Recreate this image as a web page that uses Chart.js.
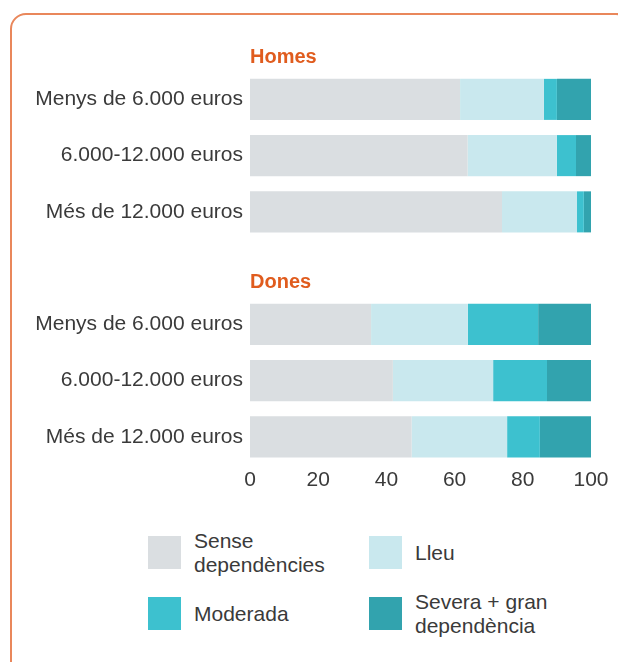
<!DOCTYPE html>
<html>
<head>
<meta charset="utf-8">
<script src="https://cdn.jsdelivr.net/npm/chart.js@4.4.1/dist/chart.umd.min.js"></script>
<style>
    html, body { margin: 0; padding: 0; background: #fff; overflow: hidden; }
    body { width: 618px; height: 662px; position: relative; font-family: "Liberation Sans", Arial, sans-serif; }
    .frame {
        position: absolute; left: 10px; top: 13px; width: 622px; height: 664px;
        border: 2px solid #e9875b; border-radius: 16px; box-sizing: border-box;
    }
    .wrap { position: absolute; left: 0; top: 0; width: 618px; height: 500px; }
    .legend { position: absolute; left: 0; top: 0; width: 618px; }
    .item { position: absolute; display: flex; align-items: center; }
    .swatch { width: 33px; height: 33px; flex: none; }
    .txt { margin-left: 13px; font-size: 21px; line-height: 24px; color: #3a3a3a; }
</style>
</head>
<body>
<div class="frame"></div>
<div class="wrap"><canvas id="chart"></canvas></div>
<div class="legend" id="legend"></div>
<script>
    // <-- Data -->
    const rowLabels = ['', 'Menys de 6.000 euros', '6.000-12.000 euros', 'Més de 12.000 euros',
                       '', 'Menys de 6.000 euros', '6.000-12.000 euros', 'Més de 12.000 euros'];
    const groupTitles = ['Homes', 'Dones'];
    const groupSlots = [0, 4];

    const seriesNames = [['Sense', 'dependències'], ['Lleu'], ['Moderada'], ['Severa + gran', 'dependència']];
    const seriesColors = ['#dadee1', '#c9e8ee', '#3dc1cf', '#32a3ae'];

    const sense    = [null, 61.6, 63.8, 73.9, null, 35.5, 41.9, 47.4];
    const lleu     = [null, 24.6, 26.2, 22.0, null, 28.4, 29.4, 28.0];
    const moderada = [null, 3.8, 5.6, 2.0, null, 20.6, 15.8, 9.6];
    const severa   = [null, 10.0, 4.4, 2.1, null, 15.5, 12.9, 15.0];

    const xTicks = [0, 20, 40, 60, 80, 100];

    const TEXT = '#3a3a3a';
    const FONT = '"Liberation Sans", Arial, sans-serif';

    // <-- Group titles plugin -->
    const groupTitlePlugin = {
        id: 'groupTitles',
        afterDraw(chart) {
            const y = chart.scales.y;
            const ctx = chart.ctx;
            ctx.save();
            ctx.font = 'bold 20px ' + FONT;
            ctx.fillStyle = '#e05c1e';
            ctx.textAlign = 'left';
            ctx.textBaseline = 'alphabetic';
            groupTitles.forEach((t, i) => {
                ctx.fillText(t, chart.chartArea.left, y.getPixelForValue(groupSlots[i]) + 20);
            });
            ctx.restore();
        }
    };

    const allData = [sense, lleu, moderada, severa];

    new Chart(document.getElementById('chart'), {
        type: 'bar',
        data: {
            labels: rowLabels,
            datasets: allData.map((d, i) => ({
                label: seriesNames[i].join(' '),
                data: d,
                backgroundColor: seriesColors[i],
                borderWidth: 0,
                categoryPercentage: 1,
                barPercentage: 0.73
            }))
        },
        options: {
            indexAxis: 'y',
            responsive: true,
            maintainAspectRatio: false,
            animation: false,
            layout: { padding: { top: 15, right: 27, bottom: 0, left: 0 } },
            plugins: { legend: { display: false }, tooltip: { enabled: false } },
            scales: {
                x: {
                    stacked: true,
                    min: 0,
                    max: 100,
                    afterBuildTicks: s => { s.ticks = xTicks.map(v => ({ value: v })); },
                    grid: { display: false, drawTicks: false },
                    border: { display: false },
                    ticks: { color: TEXT, font: { family: FONT, size: 21 }, padding: 3, maxRotation: 0 },
                    afterFit: s => { s.height = 35; }
                },
                y: {
                    stacked: true,
                    grid: { display: false, drawTicks: false },
                    border: { display: false },
                    ticks: { color: TEXT, font: { family: FONT, size: 21 }, padding: 7, autoSkip: false },
                    afterFit: s => { s.width = 250; s.paddingTop = 0; s.paddingBottom = 0; }
                }
            }
        },
        plugins: [groupTitlePlugin]
    });

    // <-- HTML legend -->
    const legendPos = [[148, 536], [369, 536], [148, 597], [369, 597]];
    const legendEl = document.getElementById('legend');
    seriesNames.forEach((lines, i) => {
        const item = document.createElement('div');
        item.className = 'item';
        item.style.left = legendPos[i][0] + 'px';
        item.style.top = legendPos[i][1] + 'px';
        item.style.height = '33px';
        const sw = document.createElement('div');
        sw.className = 'swatch';
        sw.style.background = seriesColors[i];
        const tx = document.createElement('div');
        tx.className = 'txt';
        tx.innerHTML = lines.join('<br>');
        item.appendChild(sw);
        item.appendChild(tx);
        legendEl.appendChild(item);
    });
</script>
</body>
</html>
